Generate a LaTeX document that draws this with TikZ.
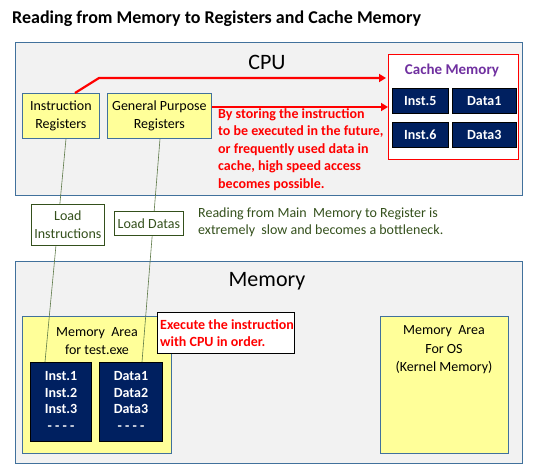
\documentclass[tikz,border=0pt]{standalone}
\usepackage{fontspec}
\setmainfont{Carlito}
\usetikzlibrary{arrows.meta}
\definecolor{boxgray}{HTML}{F2F2F2}
\definecolor{boxblue}{HTML}{41719C}
\definecolor{yel}{HTML}{FFFF99}
\definecolor{navy}{HTML}{002060}
\definecolor{purp}{HTML}{7030A0}
\definecolor{dgreen}{HTML}{34501C}
\definecolor{lgreen}{HTML}{5E7A48}
\tikzset{
  x=1pt,y=-1pt,
  txt/.style={font=\fontsize{14}{17.5}\selectfont, align=center, inner sep=0pt},
  outer/.style={draw=boxblue, fill=boxgray, line width=0.8pt, minimum width=507pt, anchor=north west, inner sep=0pt},
  yelbox/.style={draw=boxblue, fill=yel, line width=0.8pt, anchor=north west, inner sep=0pt},
  navybox/.style={draw=black, fill=navy, line width=0.6pt, anchor=north west, inner sep=0pt},
  navytxt/.style={text=white, font=\fontsize{14}{17}\selectfont\bfseries, align=center, inner sep=0pt},
  loadbox/.style={draw=dgreen, fill=white, line width=0.8pt, anchor=north west, inner sep=0pt},
  redarrow/.style={draw=red, line width=2.2pt, -{Triangle[length=7pt,width=8pt]}},
  gline/.style={draw=lgreen, line width=0.6pt},
}
\begin{document}
\begin{tikzpicture}
\useasboundingbox (0,0) rectangle (543,465);
% title
\node[anchor=west, inner sep=0pt, font=\fontsize{18}{20}\selectfont\bfseries] (title) at (12,19) {Reading from Memory to Registers and Cache Memory};
% CPU box
\node[outer, minimum height=153pt] (cpu) at (15,42) {};
\node[font=\fontsize{22}{24}\selectfont, inner sep=0pt] (cpulbl) at (267,62) {CPU};
% Memory box
\node[outer, minimum height=202pt] (mem) at (15,261) {};
\node[font=\fontsize{22}{24}\selectfont, inner sep=0pt] (memlbl) at (267,281) {Memory};
% cache
\node[draw=red, fill=white, line width=0.8pt, anchor=north west, minimum width=130pt, minimum height=105pt, inner sep=0pt] (cache) at (388,54) {};
\node[font=\fontsize{15}{16}\selectfont\bfseries, text=purp, inner sep=0pt] (cachelbl) at (452,70) {Cache Memory};
\node[navybox, minimum width=56pt, minimum height=25pt] (i5) at (392,88) {};
\node[navytxt] at (i5.center) {Inst.5};
\node[navybox, minimum width=64pt, minimum height=25pt] (d1c) at (452,88) {};
\node[navytxt] at (d1c.center) {Data1};
\node[navybox, minimum width=56pt, minimum height=25pt] (i6) at (392,122) {};
\node[navytxt] at (i6.center) {Inst.6};
\node[navybox, minimum width=64pt, minimum height=25pt] (d3c) at (452,122) {};
\node[navytxt] at (d3c.center) {Data3};
% registers
\node[yelbox, minimum width=77pt, minimum height=45pt] (ir) at (22,93) {};
\node[txt] at (ir.center) {Instruction\\Registers};
\node[yelbox, minimum width=104pt, minimum height=45pt] (gpr) at (107,93) {};
\node[txt] at (gpr.center) {General Purpose\\Registers};
% red arrows
\coordinate (bend) at (99,78);
\coordinate (a1end) at (386,78);
\coordinate (a2end) at (388,107);
\draw[redarrow] (75,93) -- (bend) -- (a1end);
\draw[redarrow] (gpr.east |- a2end) -- (a2end);
\node[anchor=north west, align=left, inner sep=0pt, text=red, font=\fontsize{14}{17.6}\selectfont\bfseries] (redtxt) at (218,108) {By storing the instruction\\to be executed in the future,\\or frequently used data in\\cache, high speed access\\becomes possible.};
% memory areas
\node[yelbox, minimum width=149pt, minimum height=137pt] (ma) at (22,316) {};
\node[txt] (matxt) at (97,341) {Memory\ \ Area\\for test.exe};
\node[yelbox, minimum width=128pt, minimum height=137pt] (os) at (380,316) {};
\node[txt, font=\fontsize{14}{18.5}\selectfont] (ostxt) at (444,350) {Memory\ \ Area\\For OS\\(Kernel Memory)};
\node[navybox, minimum width=61pt, minimum height=79pt] (inst) at (30,362) {};
\node[navytxt, font=\fontsize{14}{16.8}\selectfont\bfseries] at (61,401) {Inst.1\\Inst.2\\Inst.3\\- - - -};
\node[navybox, minimum width=63pt, minimum height=79pt] (data) at (99,362) {};
\node[navytxt, font=\fontsize{14}{16.8}\selectfont\bfseries] at (131,401) {Data1\\Data2\\Data3\\- - - -};
% execute box
\node[draw=black, fill=white, line width=0.8pt, anchor=north west, minimum width=137pt, minimum height=41pt, inner sep=0pt] (exec) at (157,312) {};
\node[anchor=west, align=left, inner sep=0pt, text=red, font=\fontsize{14}{17}\selectfont\bfseries] at (160,333) {Execute the instruction\\with CPU in order.};
% green lines
\draw[gline] (ir.south -| 66,0) -- (inst.north -| 45,0);
\draw[gline] (gpr.south -| 160,0) -- (data.north -| 142,0);
% load boxes
\node[loadbox, minimum width=73pt, minimum height=41pt] (li) at (31,204) {};
\node[txt, text=dgreen] at (li.center) {Load\\Instructions};
\node[loadbox, minimum width=69pt, minimum height=24pt] (ld) at (114,211) {};
\node[txt, text=dgreen] at (ld.center) {Load Datas};
\node[anchor=north west, align=left, inner sep=0pt, text=dgreen, font=\fontsize{14}{16.5}\selectfont] (slow) at (198,208) {Reading from Main\ \ Memory to Register is\\extremely\ \ slow and becomes a bottleneck.};
\end{tikzpicture}
\end{document}
